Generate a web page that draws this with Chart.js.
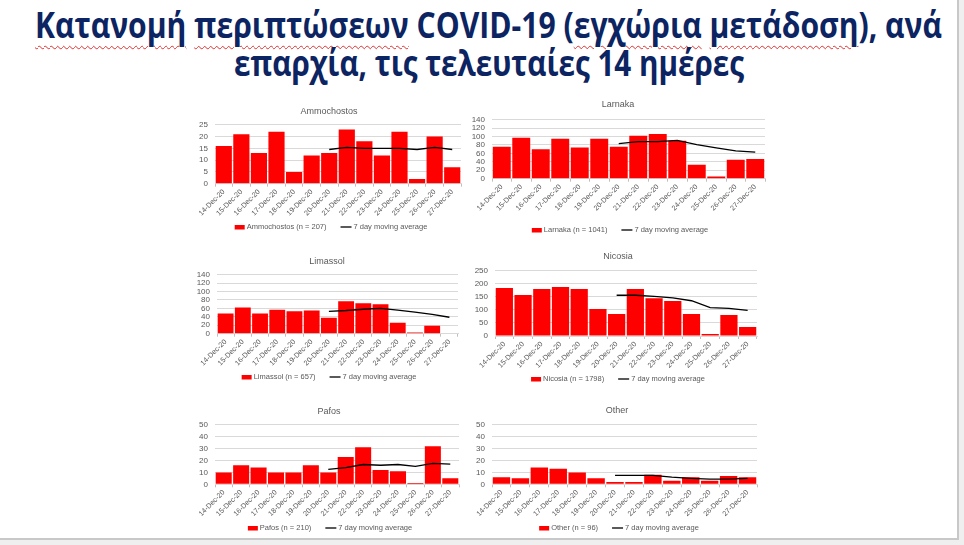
<!DOCTYPE html>
<html><head><meta charset="utf-8">
<script src="https://cdn.jsdelivr.net/npm/chart.js@4.4.0/dist/chart.umd.min.js"></script>
<style>
html,body{margin:0;padding:0;background:#efefef;width:964px;height:545px;overflow:hidden;}
#slide{position:absolute;left:0;top:0;width:957px;height:538px;background:#fff;border-right:2px solid #c8c8c8;border-bottom:2px solid #c8c8c8;}
.t{position:absolute;white-space:nowrap;font-family:'Open Sans',sans-serif;font-weight:700;color:#0c2461;font-size:35px;line-height:35px;transform-origin:0 0;}
.sq{text-decoration:underline wavy #e03030;text-decoration-thickness:1px;text-underline-offset:7px;}
canvas{position:absolute;}
</style></head>
<body>
<div id="slide">
  <div class="t" id="t1" data-x="35" data-w="907" style="top:7px"><span class="sq">Κατανομή</span> <span class="sq">περιπτώσεων</span> COVID-19 (<span class="sq">εγχώρια</span> <span class="sq">μετάδοση</span>), ανά</div>
  <div class="t" id="t2" data-x="234" data-w="510" style="top:45px">επαρχία, τις τελευταίες 14 ημέρες</div>
</div>
<script>
// ---- data ----
const categories = ['14-Dec-20','15-Dec-20','16-Dec-20','17-Dec-20','18-Dec-20','19-Dec-20','20-Dec-20','21-Dec-20','22-Dec-20','23-Dec-20','24-Dec-20','25-Dec-20','26-Dec-20','27-Dec-20'];
const avgLabel = '7 day moving average';

const ammochostosLabel = 'Ammochostos (n = 207)';
const ammochostosCases = [16,21,13,22,5,12,13,23,18,12,22,2,20,7];
const ammochostosAvg = [null,null,null,null,null,null,14.5,15.4,15.0,15.0,15.0,14.5,15.4,14.5];
const ammochostosTicks = [0,5,10,15,20,25];

const larnakaLabel = 'Larnaka (n = 1041)';
const larnakaCases = [76,97,70,95,74,95,76,102,106,90,33,5,45,47];
const larnakaAvg = [null,null,null,null,null,null,83,88,88,91,81,73,66,63];
const larnakaTicks = [0,20,40,60,80,100,120,140];

const limassolLabel = 'Limassol (n = 657)';
const limassolCases = [48,62,48,57,53,55,38,77,72,70,26,3,19,0];
const limassolAvg = [null,null,null,null,null,null,53,55,58,60,56,51,46,39];
const limassolTicks = [0,20,40,60,80,100,120,140];

const nicosiaLabel = 'Nicosia (n = 1798)';
const nicosiaCases = [184,157,180,188,180,103,84,180,145,134,84,8,80,34];
const nicosiaAvg = [null,null,null,null,null,null,156,156,152,146,135,109,106,98];
const nicosiaTicks = [0,50,100,150,200,250];

const pafosLabel = 'Pafos (n = 210)';
const pafosCases = [10,16,14,10,10,16,10,23,31,12,11,1,32,5];
const pafosAvg = [null,null,null,null,null,null,12.5,14,16.6,16,16.6,15,17.6,17];
const pafosTicks = [0,10,20,30,40,50];

const otherLabel = 'Other (n = 96)';
const otherCases = [6,5,14,13,10,5,2,2,8,3,6,3,7,6];
const otherAvg = [null,null,null,null,null,null,7.5,7.5,7.5,6,5,4.3,4.3,5];
const otherTicks = [0,10,20,30,40,50];

// ---- layout (page coordinates) ----
const panels = [
  {title:'Ammochostos', label:ammochostosLabel, cases:ammochostosCases, avg:ammochostosAvg, ticks:ammochostosTicks,
   box:[170,100,470,240], plot:[215,124.7,461,183.7], titleXY:[329,112], legendXY:[331,227]},
  {title:'Larnaka', label:larnakaLabel, cases:larnakaCases, avg:larnakaAvg, ticks:larnakaTicks,
   box:[455,95,775,242], plot:[492,119.7,765,178.7], titleXY:[618,105], legendXY:[620,230]},
  {title:'Limassol', label:limassolLabel, cases:limassolCases, avg:limassolAvg, ticks:limassolTicks,
   box:[170,250,470,390], plot:[217,274.7,458,333.7], titleXY:[327,262], legendXY:[329,377]},
  {title:'Nicosia', label:nicosiaLabel, cases:nicosiaCases, avg:nicosiaAvg, ticks:nicosiaTicks,
   box:[455,245,775,392], plot:[495,270.7,757,336], titleXY:[618,257], legendXY:[618,379]},
  {title:'Pafos', label:pafosLabel, cases:pafosCases, avg:pafosAvg, ticks:pafosTicks,
   box:[170,400,470,537], plot:[215,424.7,459,484.3], titleXY:[329,412], legendXY:[330,528]},
  {title:'Other', label:otherLabel, cases:otherCases, avg:otherAvg, ticks:otherTicks,
   box:[455,400,775,537], plot:[492,424.7,757,484.3], titleXY:[617,411], legendXY:[619,528]}
];

const FONT = '"Liberation Sans", Arial, sans-serif';
const GREY = '#595959';

const decor = {
  id:'decor',
  afterDraw(chart, args, o){
    const ctx = chart.ctx;
    ctx.save();
    ctx.fillStyle = GREY;
    ctx.font = '9px ' + FONT;
    ctx.textAlign = 'center'; ctx.textBaseline = 'middle';
    ctx.fillText(o.title, o.tx, o.ty);
    ctx.font = '7.5px ' + FONT;
    const t1 = chart.data.datasets[0].label, t2 = chart.data.datasets[1].label;
    const w1 = ctx.measureText(t1).width, w2 = ctx.measureText(t2).width;
    const box = 10, gap = 2, sep = 14, ln = 11;
    const total = box + gap + w1 + sep + ln + gap + w2;
    let x = o.lx - total/2; const y = o.ly;
    ctx.fillStyle = '#ff0000'; ctx.fillRect(x, y - 2, box, 4.5);
    x += box + gap;
    ctx.fillStyle = GREY; ctx.textAlign = 'left';
    ctx.fillText(t1, x, y);
    x += w1 + sep;
    ctx.strokeStyle = '#000'; ctx.lineWidth = 1.3;
    ctx.beginPath(); ctx.moveTo(x, y); ctx.lineTo(x + ln, y); ctx.stroke();
    x += ln + gap;
    ctx.fillText(t2, x, y);
    ctx.restore();
  }
};

panels.forEach(p => {
  const [bl, bt, br, bb] = p.box;
  const [pl, pt, pr, pb] = p.plot;
  const w = br - bl, h = bb - bt;
  const c = document.createElement('canvas');
  c.width = w; c.height = h;
  c.style.left = bl + 'px'; c.style.top = bt + 'px';
  c.style.width = w + 'px'; c.style.height = h + 'px';
  document.getElementById('slide').appendChild(c);
  const maxV = p.ticks[p.ticks.length - 1];
  const step = p.ticks[1] - p.ticks[0];
  new Chart(c, {
    type: 'bar',
    data: {
      labels: categories,
      datasets: [
        {type:'bar', label:p.label, data:p.cases, backgroundColor:'#ff0000', barPercentage:0.92, categoryPercentage:1, order:2},
        {type:'line', label:avgLabel, data:p.avg, borderColor:'#000000', borderWidth:1.3, pointRadius:0, fill:false, tension:0, order:1}
      ]
    },
    options: {
      responsive:false, animation:false, devicePixelRatio:1,
      layout:{padding:{left:0, top:pt - bt, right:br - pr, bottom:0}},
      plugins:{
        legend:{display:false}, title:{display:false}, tooltip:{enabled:false},
        decor:{title:p.title, tx:p.titleXY[0]-bl, ty:p.titleXY[1]-bt, lx:p.legendXY[0]-bl, ly:p.legendXY[1]-bt}
      },
      scales:{
        x:{
          offset:true,
          grid:{display:true, drawOnChartArea:false, drawTicks:true, tickLength:3, offset:true, color:'#bfbfbf'},
          border:{display:true, color:'#d9d9d9'},
          ticks:{minRotation:45, maxRotation:45, autoSkip:false, padding:1, color:GREY, font:{size:7.2, family:FONT}},
          afterFit(s){ s.height = bb - pb; }
        },
        y:{
          min:0, max:maxV,
          afterBuildTicks(s){ s.ticks = p.ticks.map(v => ({value:v})); },
          ticks:{stepSize:step, autoSkip:false, padding:7, color:GREY, font:{size:8, family:FONT}},
          grid:{color:'#d9d9d9', drawTicks:false, tickLength:0},
          border:{display:false},
          afterFit(s){ s.width = pl - bl; }
        }
      }
    },
    plugins:[decor]
  });
});

function fitTitles(){
  document.querySelectorAll('.t').forEach(el => {
    el.style.transform = 'none';
    el.style.left = el.dataset.x + 'px';
    const cw = el.getBoundingClientRect().width;
    el.style.transform = 'scaleX(' + (el.dataset.w / cw) + ')';
  });
}
fitTitles();
if (document.fonts && document.fonts.ready) document.fonts.ready.then(fitTitles);
</script>
</body></html>
